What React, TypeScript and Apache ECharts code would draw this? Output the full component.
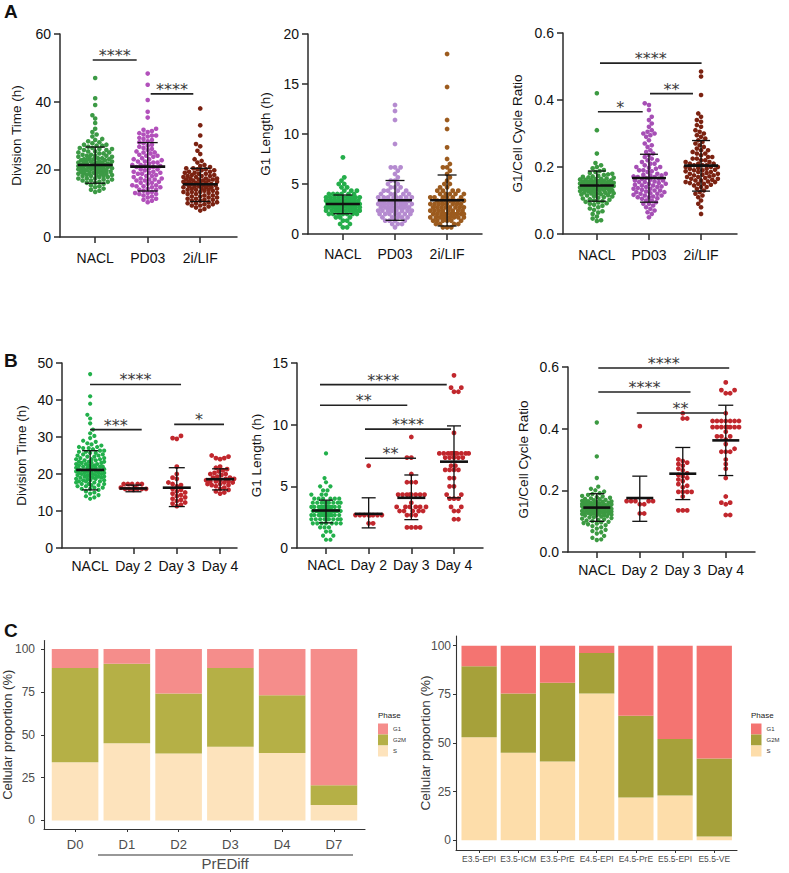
import React, { useEffect, useRef } from 'react';
import * as echarts from 'echarts';

const FONT = 'Liberation Sans, Arial, sans-serif';

// ---------- categories ----------
const CATS_A = ['NACL', 'PD03', '2i/LIF'];
const CATS_B = ['NACL', 'Day 2', 'Day 3', 'Day 4'];
const CATS_C1 = ['D0', 'D1', 'D2', 'D3', 'D4', 'D7'];
const CATS_C2 = ['E3.5-EPI', 'E3.5-ICM', 'E3.5-PrE', 'E4.5-EPI', 'E4.5-PrE', 'E5.5-EPI', 'E5.5-VE'];
const PHASES = ['G1', 'G2M', 'S'];

// ---------- division time (h) ----------
const NACL_DIV = [47, 41, 39, 36, 35, 33.7, 32, 31, 30.3, 29.7, 29, 28.7, 28.3, 28, 27.7, 27.3, 27.3, 27, 27, 26.7, 26.3, 26.3, 26, 26, 25.7, 25.7, 25.3, 25.3, 25, 25, 24.7, 24.7, 24.3, 24.3, 24, 24, 24, 23.7, 23.7, 23.3, 23.3, 23.3, 23, 23, 23, 22.7, 22.7, 22.7, 22.3, 22.3, 22.3, 22, 22, 22, 22, 21.7, 21.7, 21.7, 21.3, 21.3, 21.3, 21.3, 21, 21, 21, 21, 20.7, 20.7, 20.7, 20.7, 20.3, 20.3, 20.3, 20.3, 20, 20, 20, 20, 19.7, 19.7, 19.7, 19.3, 19.3, 19.3, 19.3, 19, 19, 19, 18.7, 18.7, 18.7, 18.3, 18.3, 18.3, 18, 18, 18, 17.7, 17.7, 17.3, 17.3, 17.3, 17, 17, 16.7, 16.7, 16.3, 16.3, 16, 16, 15.7, 15.3, 15, 14.7, 14.3, 14, 13.7, 13.3];
const PD03_DIV = [48.3, 45, 40.5, 37, 35.3, 32, 31.7, 31.3, 31, 30.7, 30.3, 30, 30, 29.7, 29.3, 29, 28.7, 28.3, 28, 27.7, 27.3, 27, 26.7, 26.3, 26, 25.7, 25.3, 25, 25, 24.7, 24.3, 24, 24, 23.7, 23.3, 23, 23, 22.7, 22.3, 22, 22, 21.7, 21.3, 21, 21, 20.7, 20.3, 20, 20, 19.7, 19.3, 19, 19, 18.7, 18.3, 18, 18, 17.7, 17.3, 17, 17, 16.7, 16.3, 16, 16, 15.7, 15.3, 15, 15, 14.7, 14.3, 14, 14, 13.7, 13.3, 13, 13, 12.7, 12.3, 12, 11.7, 11.3, 11, 10.7, 10.3, 18.7, 19.3, 20.7, 21.3, 22.3, 17.3, 16.7, 15.3, 14.7, 12.7];
const LIF_DIV = [38, 33, 30, 27.5, 26.8, 25.5, 24.5, 23, 22.5, 22, 21.3, 21, 20.7, 20.3, 20.3, 20, 20, 19.7, 19.7, 19.3, 19.3, 19, 19, 18.7, 18.7, 18.3, 18.3, 18, 18, 18, 17.7, 17.7, 17.3, 17.3, 17.3, 17, 17, 17, 16.7, 16.7, 16.7, 16.3, 16.3, 16.3, 16, 16, 16, 15.7, 15.7, 15.7, 15.3, 15.3, 15.3, 15, 15, 15, 14.7, 14.7, 14.7, 14.3, 14.3, 14.3, 14, 14, 14, 13.7, 13.7, 13.3, 13.3, 13.3, 13, 13, 12.7, 12.7, 12.3, 12.3, 12, 12, 11.7, 11.7, 11.3, 11.3, 11, 11, 10.7, 10.7, 10.3, 10.3, 10, 10, 9.7, 9.7, 9.3, 9.3, 9, 8.7, 8.3, 7.8];
const DAY2_DIV = [17.3, 17.3, 17.3, 17.3, 17.3, 16.3, 16.3, 16, 16, 16, 16, 16, 15.7];
const DAY3_DIV = [30.3, 29.7, 29.5, 22, 20, 19, 18.7, 17.7, 17.3, 17, 16.7, 16, 15.7, 15.3, 15, 14.7, 14.3, 14, 13.7, 13.3, 13, 12.7, 12.3, 12, 11.7, 11.3];
const DAY4_DIV = [25, 24.7, 24.3, 24.3, 24, 22, 21.7, 21.3, 21, 20.7, 20.3, 20, 20, 19.7, 19.3, 19, 19, 18.7, 18.7, 18.3, 18.3, 18, 18, 18, 17.7, 17.7, 17.3, 17.3, 17, 17, 16.7, 16.3, 16, 15.7, 15.3, 15, 14.7];

// ---------- G1 length (h) ----------
const NACL_G1 = [7.67, 5.67, 5.33, 5, 5, 4.67, 4.67, 4.33, 4.33, 4.33, 4, 4, 4, 4, 4, 4,
  3.67, 3.67, 3.67, 3.67, 3.67, 3.67, 3.67, 3.67, 3.67, 3.67,
  3.33, 3.33, 3.33, 3.33, 3.33, 3.33, 3.33, 3.33, 3.33, 3.33, 3.33, 3.33, 3.33, 3.33,
  3, 3, 3, 3, 3, 3, 3, 3, 3, 3, 3, 3, 3, 3, 3, 3, 3, 3,
  2.67, 2.67, 2.67, 2.67, 2.67, 2.67, 2.67, 2.67, 2.67, 2.67, 2.67, 2.67, 2.67, 2.67,
  2.33, 2.33, 2.33, 2.33, 2.33, 2.33, 2.33, 2.33, 2.33, 2.33,
  2, 2, 2, 2, 2, 2, 2, 1.67, 1.67, 1.67, 1.33, 1.33, 1, 1, 0.67, 0.67];
const PD03_G1 = [12.9, 12.3, 11.4, 9, 6.67, 6.67, 6.67, 6.33, 6, 5.67, 5.33, 5.33, 5, 5, 4.67, 4.67, 4.67, 4.33, 4.33, 4.33, 4.33, 4, 4, 4, 4, 4,
  3.67, 3.67, 3.67, 3.67, 3.67, 3.67, 3.67, 3.67,
  3.33, 3.33, 3.33, 3.33, 3.33, 3.33, 3.33, 3.33, 3.33, 3.33,
  3, 3, 3, 3, 3, 3, 3, 3, 3, 3,
  2.67, 2.67, 2.67, 2.67, 2.67, 2.67, 2.67, 2.67, 2.67,
  2.33, 2.33, 2.33, 2.33, 2.33, 2.33, 2.33, 2.33,
  2, 2, 2, 2, 2, 2, 2, 1.67, 1.67, 1.67, 1.67, 1.67, 1.33, 1.33, 1.33, 1.33, 1, 1, 1, 0.67];
const LIF_G1 = [18, 14.7, 11.4, 10.5, 8.67, 7.5, 7, 6.67, 6.67, 6.33, 6, 5.67, 5.33, 5, 5, 4.67, 4.67,
  4.33, 4.33, 4.33, 4.33, 4, 4, 4, 4, 4, 3.67, 3.67, 3.67, 3.67, 3.67, 3.67,
  3.33, 3.33, 3.33, 3.33, 3.33, 3.33, 3.33, 3, 3, 3, 3, 3, 3, 3, 3,
  2.67, 2.67, 2.67, 2.67, 2.67, 2.67, 2.67, 2.67, 2.33, 2.33, 2.33, 2.33, 2.33, 2.33, 2.33, 2.33,
  2, 2, 2, 2, 2, 2, 2, 2, 2, 2, 1.67, 1.67, 1.67, 1.67, 1.67, 1.67, 1.67, 1.67, 1.67,
  1.33, 1.33, 1.33, 1.33, 1.33, 1.33, 1, 1, 1, 1, 0.67, 0.67, 0.67];
const DAY2_G1 = [6.67, 2.67, 2.67, 2.67, 2.67, 2.67, 2.67, 2.67, 2.67, 2, 2];
const DAY3_G1 = [9, 7.33, 7.33, 6, 5.33, 5.33, 5.33, 4.33, 4.33, 4.33, 4.33, 4.33, 4.33, 4.33, 4.33, 3.67, 3.33, 3.33, 3.33, 3.33, 3.33, 3.33, 3, 3, 3, 3, 3, 2.67, 2.67, 2.67, 1.67, 1.67, 1.67, 1.67];
const DAY4_G1 = [14, 13, 13, 12.67, 12.67, 9.33, 7.67, 7.67, 7.67, 7.67, 7.67, 7.67, 7.67, 7.67, 7.67, 7.67, 7.67, 7.33, 7.33, 7.33, 7.33, 7.33, 6.67, 6.67, 6.33, 6.33, 6.33, 6.33, 5.67, 5.67, 5, 5, 4.33, 4.33, 4, 4, 4, 3.33, 3.33, 3, 3, 2.33, 2.33];

// ---------- G1 / cell cycle ratio ----------
const NACL_R = [0.42, 0.31, 0.24, 0.212, 0.205, 0.2, 0.196, 0.191, 0.188, 0.185, 0.182, 0.18, 0.178, 0.176, 0.174, 0.172, 0.171, 0.169, 0.168, 0.166, 0.165, 0.164, 0.163, 0.162, 0.161, 0.16, 0.159, 0.158, 0.157, 0.156, 0.155, 0.155, 0.154, 0.153, 0.152, 0.151, 0.15, 0.15, 0.149, 0.148, 0.147, 0.146, 0.145, 0.145, 0.144, 0.143, 0.142, 0.141, 0.14, 0.14, 0.139, 0.138, 0.137, 0.136, 0.135, 0.135, 0.134, 0.133, 0.132, 0.131, 0.13, 0.13, 0.129, 0.128, 0.127, 0.126, 0.125, 0.124, 0.123, 0.122, 0.121, 0.12, 0.119, 0.118, 0.116, 0.115, 0.113, 0.112, 0.11, 0.108, 0.106, 0.104, 0.102, 0.1, 0.098, 0.096, 0.094, 0.092, 0.09, 0.087, 0.084, 0.08, 0.076, 0.072, 0.068, 0.064, 0.06, 0.052, 0.046, 0.041, 0.039];
const PD03_R = [0.39, 0.385, 0.37, 0.35, 0.34, 0.33, 0.32, 0.31, 0.305, 0.3, 0.3, 0.295, 0.29, 0.28, 0.27, 0.265, 0.26, 0.25, 0.245, 0.24, 0.235, 0.23, 0.225, 0.22, 0.22, 0.215, 0.21, 0.21, 0.205, 0.2, 0.2, 0.198, 0.195, 0.19, 0.19, 0.187, 0.185, 0.18, 0.18, 0.177, 0.175, 0.175, 0.172, 0.17, 0.17, 0.167, 0.165, 0.165, 0.162, 0.16, 0.16, 0.157, 0.155, 0.155, 0.152, 0.15, 0.15, 0.147, 0.145, 0.145, 0.142, 0.14, 0.14, 0.137, 0.135, 0.135, 0.132, 0.13, 0.13, 0.127, 0.125, 0.125, 0.122, 0.12, 0.12, 0.117, 0.115, 0.115, 0.112, 0.11, 0.11, 0.107, 0.105, 0.1, 0.1, 0.095, 0.09, 0.09, 0.085, 0.08, 0.075, 0.07, 0.065, 0.06, 0.05];
const LIF_R = [0.485, 0.47, 0.415, 0.36, 0.35, 0.34, 0.335, 0.325, 0.32, 0.31, 0.305, 0.3, 0.295, 0.29, 0.285, 0.28, 0.275, 0.27, 0.265, 0.26, 0.255, 0.25, 0.25, 0.245, 0.24, 0.24, 0.235, 0.23, 0.23, 0.225, 0.225, 0.22, 0.22, 0.215, 0.215, 0.21, 0.21, 0.21, 0.205, 0.205, 0.205, 0.2, 0.2, 0.2, 0.197, 0.195, 0.195, 0.192, 0.19, 0.19, 0.187, 0.185, 0.185, 0.182, 0.18, 0.18, 0.177, 0.175, 0.175, 0.172, 0.17, 0.17, 0.167, 0.165, 0.165, 0.162, 0.16, 0.16, 0.157, 0.155, 0.155, 0.152, 0.15, 0.15, 0.147, 0.145, 0.14, 0.14, 0.135, 0.13, 0.125, 0.12, 0.115, 0.11, 0.1, 0.09, 0.08, 0.06];
const DAY2_R = [0.408, 0.165, 0.165, 0.165, 0.165, 0.165, 0.155, 0.155, 0.125, 0.125];
const DAY3_R = [0.45, 0.433, 0.433, 0.3, 0.295, 0.29, 0.285, 0.28, 0.27, 0.265, 0.255, 0.25, 0.245, 0.24, 0.235, 0.23, 0.22, 0.215, 0.21, 0.195, 0.195, 0.195, 0.195, 0.18, 0.135, 0.135, 0.135];
const DAY4_R = [0.55, 0.525, 0.525, 0.515, 0.515, 0.45, 0.425, 0.425, 0.425, 0.425, 0.425, 0.425, 0.425, 0.405, 0.405, 0.405, 0.405, 0.405, 0.405, 0.405, 0.405, 0.39, 0.375, 0.375, 0.375, 0.365, 0.35, 0.335, 0.325, 0.325, 0.325, 0.3, 0.285, 0.27, 0.24, 0.18, 0.16, 0.16, 0.155, 0.12, 0.12];

// ---------- mean and SD ----------
const A_DIV_MEAN = [21.3, 20.8, 15.6], A_DIV_LO = [15.9, 13.6, 10.5], A_DIV_HI = [26.6, 27.9, 20.3];
const A_G1_MEAN = [3.0, 3.37, 3.37], A_G1_LO = [2.03, 1.37, 0.8], A_G1_HI = [3.9, 5.35, 5.9];
const A_R_MEAN = [0.145, 0.167, 0.204], A_R_LO = [0.098, 0.095, 0.128], A_R_HI = [0.188, 0.238, 0.279];
const B_DIV_MEAN = [21.1, 16.1, 16.3, 18.6], B_DIV_LO = [15.7, 15.2, 11.2, 15.7], B_DIV_HI = [26.3, 17.0, 21.7, 21.4];
const B_G1_MEAN = [3.04, 2.77, 4.07, 7.0], B_G1_LO = [2.04, 1.63, 2.3, 4.07], B_G1_HI = [3.88, 4.07, 5.92, 9.9];
const B_R_MEAN = [0.144, 0.175, 0.254, 0.362], B_R_LO = [0.0995, 0.0995, 0.17, 0.248], B_R_HI = [0.189, 0.246, 0.339, 0.476];

// ---------- significance brackets [from, to, height] ----------
const A_DIV_SIG = [[0.953, 1.79, 52.3], [2.057, 2.868, 42.3]];
const A_DIV_SIG_TXT = ['****', '****'];
const A_R_SIG = [[1.06, 3.01, 0.51], [1.02, 1.88, 0.365], [2.02, 2.845, 0.419]];
const A_R_SIG_TXT = ['****', '*', '**'];
const B_DIV_SIG = [[0.997, 3.098, 44.2], [0.997, 2.19, 32], [2.94, 4.09, 33.4]];
const B_DIV_SIG_TXT = ['****', '***', '*'];
const B_G1_SIG = [[0.859, 3.83, 13.25], [0.859, 2.905, 11.57], [1.914, 3.93, 9.64], [1.914, 3.11, 7.28]];
const B_G1_SIG_TXT = ['****', '**', '****', '**'];
const B_R_SIG = [[1.035, 4.08, 0.597], [1.035, 3.18, 0.519], [1.93, 3.96, 0.451]];
const B_R_SIG_TXT = ['****', '****', '**'];

// ---------- panel C proportions (%) ----------
const C1_S = [34, 45, 39, 43, 39.4, 9];
const C1_G2M = [55, 46.5, 35, 46, 33.6, 11.5];
const C1_G1 = [11, 8.5, 26, 11, 27, 79.5];
const C2_S = [53, 45, 40.5, 75.5, 22, 23, 2];
const C2_G2M = [36.5, 30.5, 40.5, 20.7, 42, 29, 40];
const C2_G1 = [10.5, 24.5, 19, 3.8, 36, 48, 58];

const C1_COLORS = { G1: '#F58D8B', G2M: '#B5B046', S: '#FDE3BC' };
const C2_COLORS = { G1: '#F47471', G2M: '#A6A13A', S: '#FDDDAA' };

// ---------- beeswarm layout (pixel space) ----------
function swarm(values: number[], pxY: number, d: number, maxHalf: number): number[] {
  const order = values.map((_, i) => i).sort((a, b) => values[a] - values[b]);
  const placed: { x: number; y: number }[] = [];
  const out = new Array(values.length).fill(0);
  const step = d / 3;
  order.forEach((i, n) => {
    const y = values[i] * pxY;
    const near = placed.filter((p) => Math.abs(p.y - y) < d);
    let best = 0;
    let bestScore = -1;
    let found = false;
    for (let k = 0; k * step <= maxHalf && !found; k++) {
      const signs = k === 0 ? [1] : n % 2 ? [1, -1] : [-1, 1];
      for (const s of signs) {
        const x = s * k * step;
        let minD = Infinity;
        for (const p of near) {
          const dd = Math.hypot(p.x - x, p.y - y);
          if (dd < minD) minD = dd;
        }
        if (minD >= d) { best = x; found = true; break; }
        if (minD > bestScore) { bestScore = minD; best = x; }
      }
    }
    placed.push({ x: best, y });
    out[i] = best;
  });
  return out;
}

type DotPanel = {
  rect: [number, number, number, number];
  xr: [number, number];
  yr: [number, number];
  yInterval: number;
  yDecimals: number;
  yName: string;
  nameGap: number;
  labelMargin: number;
  cats: string[];
  groups: number[][];
  colors: string[];
  sizes: number[];
  d: number;
  maxHalf: number;
  mean: number[]; lo: number[]; hi: number[];
  meanW: number; capW: number;
  sig: number[][]; sigTxt: string[];
};

const AX_COLOR = '#2b2b2b';

function buildDotPanel(idx: number, p: DotPanel) {
  const [left, top, width, height] = p.rect;
  const pxX = width / (p.xr[1] - p.xr[0]);
  const pxY = height / (p.yr[1] - p.yr[0]);
  const ticks = p.cats.map((_, i) => i + 1);
  const grid = { left, top, width, height, containLabel: false };
  const xAxis = {
    type: 'value', gridIndex: idx, min: p.xr[0], max: p.xr[1],
    splitLine: { show: false },
    axisLine: { show: true, onZero: false, lineStyle: { color: AX_COLOR, width: 1.5 } },
    axisTick: { show: true, customValues: ticks, length: 6, lineStyle: { color: AX_COLOR, width: 1.5 } },
    axisLabel: {
      show: true, customValues: ticks, margin: p.labelMargin,
      formatter: (v: number) => p.cats[Math.round(v) - 1] ?? '',
      color: '#111', fontSize: 14, fontFamily: FONT,
    },
  };
  const yAxis = {
    type: 'value', gridIndex: idx, min: p.yr[0], max: p.yr[1], interval: p.yInterval,
    splitLine: { show: false },
    axisLine: { show: true, lineStyle: { color: AX_COLOR, width: 1.5 } },
    axisTick: { show: true, length: 6, lineStyle: { color: AX_COLOR, width: 1.5 } },
    axisLabel: {
      margin: 9, color: '#111', fontSize: 14, fontFamily: FONT,
      formatter: (v: number) => v.toFixed(p.yDecimals),
    },
    name: p.yName, nameLocation: 'middle', nameGap: p.nameGap,
    nameTextStyle: { color: '#111', fontSize: 13.5, fontFamily: FONT },
  };
  const series: any[] = [];
  p.groups.forEach((vals, g) => {
    const offs = swarm(vals, pxY, p.d, p.maxHalf);
    series.push({
      type: 'scatter', xAxisIndex: idx, yAxisIndex: idx, z: 2,
      symbolSize: p.sizes[g], silent: true,
      itemStyle: { color: p.colors[g], opacity: 1 },
      data: vals.map((v, i) => [g + 1 + offs[i] / pxX, v]),
    });
  });
  const meanW = p.meanW, capW = p.capW;
  series.push({
    type: 'custom', xAxisIndex: idx, yAxisIndex: idx, z: 10, silent: true,
    data: p.mean.map((m, i) => [i + 1, m, p.lo[i], p.hi[i]]),
    renderItem: (_params: any, api: any) => {
      const x = api.value(0);
      const pm = api.coord([x, api.value(1)]);
      const pl = api.coord([x, api.value(2)]);
      const ph = api.coord([x, api.value(3)]);
      const st = { stroke: '#111', lineWidth: 1.3 };
      return {
        type: 'group',
        children: [
          { type: 'line', shape: { x1: pl[0], y1: pl[1], x2: ph[0], y2: ph[1] }, style: st },
          { type: 'line', shape: { x1: pl[0] - capW / 2, y1: pl[1], x2: pl[0] + capW / 2, y2: pl[1] }, style: st },
          { type: 'line', shape: { x1: ph[0] - capW / 2, y1: ph[1], x2: ph[0] + capW / 2, y2: ph[1] }, style: st },
          { type: 'line', shape: { x1: pm[0] - meanW / 2, y1: pm[1], x2: pm[0] + meanW / 2, y2: pm[1] }, style: { stroke: '#111', lineWidth: 2.6 } },
        ],
      };
    },
  });
  if (p.sig.length) {
    series.push({
      type: 'custom', xAxisIndex: idx, yAxisIndex: idx, z: 11, silent: true,
      data: p.sig,
      renderItem: (params: any, api: any) => {
        const a = api.coord([api.value(0), api.value(2)]);
        const b = api.coord([api.value(1), api.value(2)]);
        return {
          type: 'group',
          children: [
            { type: 'line', shape: { x1: a[0], y1: a[1], x2: b[0], y2: b[1] }, style: { stroke: '#222', lineWidth: 1.6 } },
            {
              type: 'text',
              style: {
                text: p.sigTxt[params.dataIndex], x: (a[0] + b[0]) / 2, y: a[1] + 3.5,
                fill: '#3a3a3a', font: '16px DejaVu Sans', align: 'center', verticalAlign: 'bottom',
                textAlign: 'center', textVerticalAlign: 'bottom',
              },
            },
          ],
        };
      },
    });
  }
  return { grid, xAxis, yAxis, series };
}

type BarPanel = {
  rect: [number, number, number, number];
  xr: [number, number];
  cats: string[];
  s: number[]; g2m: number[]; g1: number[];
  colors: { G1: string; G2M: string; S: string };
  xFont: number; xMargin: number; yFont: number; yMargin: number; nameFont: number; nameGap: number;
};

const BAR_HALF = 0.45;

function buildBarPanel(idx: number, p: BarPanel) {
  const [left, top, width, height] = p.rect;
  const ticks = p.cats.map((_, i) => i + 1);
  const grid = { left, top, width, height, containLabel: false };
  const xAxis = {
    type: 'value', gridIndex: idx, min: p.xr[0], max: p.xr[1],
    splitLine: { show: false },
    axisLine: { show: true, onZero: false, lineStyle: { color: '#333', width: 1.1 } },
    axisTick: { show: true, customValues: ticks, length: 3, lineStyle: { color: '#333', width: 1 } },
    axisLabel: {
      show: true, customValues: ticks, margin: p.xMargin,
      formatter: (v: number) => p.cats[Math.round(v) - 1] ?? '',
      color: '#4d4d4d', fontSize: p.xFont, fontFamily: FONT,
    },
  };
  const yT = [0, 25, 50, 75, 100];
  const yAxis = {
    type: 'value', gridIndex: idx, min: -5, max: 105,
    splitLine: { show: false },
    axisLine: { show: true, onZero: false, lineStyle: { color: '#333', width: 1.1 } },
    axisTick: { show: true, customValues: yT, length: 3, lineStyle: { color: '#333', width: 1 } },
    axisLabel: { customValues: yT, margin: p.yMargin, color: '#4d4d4d', fontSize: p.yFont, fontFamily: FONT },
    name: 'Cellular proportion (%)', nameLocation: 'middle', nameGap: p.nameGap, nameMoveOverlap: false,
    nameTextStyle: { color: '#333', fontSize: p.nameFont, fontFamily: FONT },
  };
  const layers: [string, number[], number[]][] = [];
  const s0 = p.s.map(() => 0);
  const s1 = p.s.map((v) => v);
  const g1top = p.s.map((v, i) => v + p.g2m[i]);
  const g1end = p.s.map((v, i) => v + p.g2m[i] + p.g1[i]);
  layers.push([p.colors.S, s0, s1]);
  layers.push([p.colors.G2M, s1, g1top]);
  layers.push([p.colors.G1, g1top, g1end]);
  const series = layers.map(([color, lo, hi]) => ({
    type: 'custom', xAxisIndex: idx, yAxisIndex: idx, silent: true,
    data: lo.map((l, i) => [i + 1, l, hi[i]]),
    renderItem: (_params: any, api: any) => {
      const x = api.value(0);
      const p0 = api.coord([x - BAR_HALF, api.value(1)]);
      const p1 = api.coord([x + BAR_HALF, api.value(2)]);
      return {
        type: 'rect',
        shape: { x: p0[0], y: p1[1], width: p1[0] - p0[0], height: p0[1] - p1[1] },
        style: { fill: color },
      };
    },
  }));
  return { grid, xAxis, yAxis, series };
}

const GREEN_A1 = '#3C9A45', PURPLE_A1 = '#B251BB', BROWN_A1 = '#7B2211';
const GREEN_A2 = '#25AE4B', PURPLE_A2 = '#B58BD0', BROWN_A2 = '#9C5B1E';
const GREEN_A3 = '#3C9A42', PURPLE_A3 = '#A64FB5';
const GREEN_B = '#22B04B', RED_B = '#C1272D';

function legend(x: number, colors: { G1: string; G2M: string; S: string }, boxW: number) {
  const items: any[] = [
    { type: 'text', left: x, top: 711, style: { text: 'Phase', font: `8px ${FONT}`, fill: '#222' } },
  ];
  PHASES.forEach((ph, i) => {
    items.push({ type: 'rect', shape: { x: x, y: 723.5 + i * 11, width: boxW, height: 11 }, style: { fill: (colors as any)[ph] } });
    items.push({ type: 'text', x: x + boxW + 5, y: 729 + i * 11, style: { text: ph, font: `6px ${FONT}`, fill: '#333', verticalAlign: 'middle', textVerticalAlign: 'middle' } });
  });
  return items;
}

export default function App() {
  const ref = useRef<HTMLDivElement>(null);
  useEffect(() => {
    if (!ref.current) return;
    const chart = echarts.init(ref.current, undefined, { renderer: 'svg', width: 789, height: 873 });

    const panels = [
      buildDotPanel(0, {
        rect: [60, 34, 177, 203], xr: [0.33, 3.7], yr: [0, 60], yInterval: 20, yDecimals: 0,
        yName: 'Division Time (h)', nameGap: 37, labelMargin: 14, cats: CATS_A,
        groups: [NACL_DIV, PD03_DIV, LIF_DIV], colors: [GREEN_A1, PURPLE_A1, BROWN_A1], sizes: [4.6, 4.6, 4.6],
        d: 4.2, maxHalf: 18, mean: A_DIV_MEAN, lo: A_DIV_LO, hi: A_DIV_HI, meanW: 35, capW: 20,
        sig: A_DIV_SIG, sigTxt: A_DIV_SIG_TXT,
      }),
      buildDotPanel(1, {
        rect: [308, 34, 174, 200], xr: [0.33, 3.67], yr: [0, 20], yInterval: 5, yDecimals: 0,
        yName: 'G1 Length (h)', nameGap: 36, labelMargin: 13, cats: CATS_A,
        groups: [NACL_G1, PD03_G1, LIF_G1], colors: [GREEN_A2, PURPLE_A2, BROWN_A2], sizes: [4.8, 4.8, 4.8],
        d: 4.2, maxHalf: 17, mean: A_G1_MEAN, lo: A_G1_LO, hi: A_G1_HI, meanW: 34, capW: 19,
        sig: [], sigTxt: [],
      }),
      buildDotPanel(2, {
        rect: [563, 33, 174, 201], xr: [0.35, 3.69], yr: [0, 0.6], yInterval: 0.2, yDecimals: 1,
        yName: 'G1/Cell Cycle Ratio', nameGap: 39, labelMargin: 14, cats: CATS_A,
        groups: [NACL_R, PD03_R, LIF_R], colors: [GREEN_A3, PURPLE_A3, BROWN_A1], sizes: [4.6, 4.6, 4.6],
        d: 4.2, maxHalf: 18, mean: A_R_MEAN, lo: A_R_LO, hi: A_R_HI, meanW: 34, capW: 18,
        sig: A_R_SIG, sigTxt: A_R_SIG_TXT,
      }),
      buildDotPanel(3, {
        rect: [62, 363, 175, 185], xr: [0.35, 4.39], yr: [0, 50], yInterval: 10, yDecimals: 0,
        yName: 'Division Time (h)', nameGap: 34, labelMargin: 11, cats: CATS_B,
        groups: [NACL_DIV, DAY2_DIV, DAY3_DIV, DAY4_DIV], colors: [GREEN_B, RED_B, RED_B, RED_B], sizes: [4.2, 4.8, 4.8, 4.8],
        d: 4.2, maxHalf: 15, mean: B_DIV_MEAN, lo: B_DIV_LO, hi: B_DIV_HI, meanW: 28, capW: 16,
        sig: B_DIV_SIG, sigTxt: B_DIV_SIG_TXT,
      }),
      buildDotPanel(4, {
        rect: [297, 363, 186, 185], xr: [0.32, 4.68], yr: [0, 15], yInterval: 5, yDecimals: 0,
        yName: 'G1 Length (h)', nameGap: 34, labelMargin: 10, cats: CATS_B,
        groups: [NACL_G1, DAY2_G1, DAY3_G1, DAY4_G1], colors: [GREEN_B, RED_B, RED_B, RED_B], sizes: [4.2, 4.8, 4.8, 4.8],
        d: 4.4, maxHalf: 15, mean: B_G1_MEAN, lo: B_G1_LO, hi: B_G1_HI, meanW: 28, capW: 14,
        sig: B_G1_SIG, sigTxt: B_G1_SIG_TXT,
      }),
      buildDotPanel(5, {
        rect: [568, 367, 187, 185], xr: [0.33, 4.68], yr: [0, 0.6], yInterval: 0.2, yDecimals: 1,
        yName: 'G1/Cell Cycle Ratio', nameGap: 38, labelMargin: 11, cats: CATS_B,
        groups: [NACL_R, DAY2_R, DAY3_R, DAY4_R], colors: [GREEN_A3, RED_B, RED_B, RED_B], sizes: [4.4, 4.8, 4.8, 4.8],
        d: 4.4, maxHalf: 15, mean: B_R_MEAN, lo: B_R_LO, hi: B_R_HI, meanW: 27, capW: 15,
        sig: B_R_SIG, sigTxt: B_R_SIG_TXT,
      }),
      buildBarPanel(6, {
        rect: [42, 640.5, 323, 188.5], xr: [0.4, 6.6], cats: CATS_C1,
        s: C1_S, g2m: C1_G2M, g1: C1_G1, colors: C1_COLORS,
        xFont: 13, xMargin: 9, yFont: 12, yMargin: 9, nameFont: 13, nameGap: 30,
      }),
      buildBarPanel(7, {
        rect: [456, 636, 281, 214], xr: [0.41, 7.58], cats: CATS_C2,
        s: C2_S, g2m: C2_G2M, g1: C2_G1, colors: C2_COLORS,
        xFont: 8.5, xMargin: 4, yFont: 12, yMargin: 5, nameFont: 13.5, nameGap: 24,
      }),
    ];

    const graphic: any[] = [
      { type: 'text', left: 4, top: 2, style: { text: 'A', font: `bold 19px ${FONT}`, fill: '#111' } },
      { type: 'text', left: 4, top: 351, style: { text: 'B', font: `bold 19px ${FONT}`, fill: '#111' } },
      { type: 'text', left: 4, top: 621, style: { text: 'C', font: `bold 19px ${FONT}`, fill: '#111' } },
      { type: 'line', shape: { x1: 98, y1: 855, x2: 353, y2: 855 }, style: { stroke: '#333', lineWidth: 1.2 } },
      { type: 'text', x: 225, y: 863.5, style: { text: 'PrEDiff', font: `15px ${FONT}`, fill: '#4d4d4d', align: 'center', verticalAlign: 'middle', textAlign: 'center', textVerticalAlign: 'middle' } },
      ...legend(378, C1_COLORS, 10),
      ...legend(751, C2_COLORS, 10.5),
    ];

    chart.setOption({
      animation: false,
      backgroundColor: '#ffffff',
      textStyle: { fontFamily: FONT },
      grid: panels.map((p) => p.grid),
      xAxis: panels.map((p) => p.xAxis),
      yAxis: panels.map((p) => p.yAxis),
      series: panels.flatMap((p) => p.series),
      graphic,
    });
    return () => chart.dispose();
  }, []);
  return <div ref={ref} style={{ position: 'absolute', left: 0, top: 0, width: 789, height: 873, background: '#fff' }} />;
}
